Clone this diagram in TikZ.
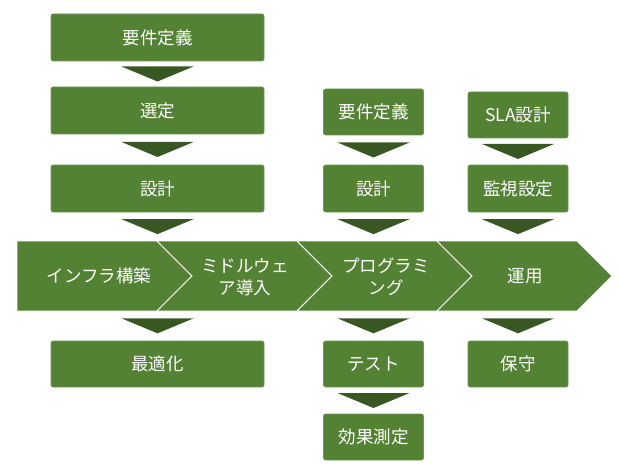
\documentclass[tikz,border=0pt]{standalone}
\usepackage{fontspec}
\newfontfamily\jp{Noto Sans CJK JP}
\definecolor{boxg}{HTML}{548235}
\definecolor{trig}{HTML}{385723}
\newcommand\flowtri[2]{%
  \path (#1) -- (#2) coordinate[midway] (tmid);
  \fill[trig] ([xshift=-36pt,yshift=7.5pt]tmid) -- ([xshift=36pt,yshift=7.5pt]tmid) -- ([yshift=-7.5pt]tmid) -- cycle;}
\begin{document}
\begin{tikzpicture}[x=1pt,y=-1pt,
  jpfont/.style={font=\jp\fontsize{17.5}{22.5}\selectfont},
  box/.style={fill=boxg, draw=boxg!85!white, line width=0.6pt, rounded corners=2pt,
    text=white, jpfont, inner sep=0pt, align=center},
  lbox/.style={box, minimum width=213pt},
  sbox/.style={box, minimum width=100pt},
  seg/.style={fill=boxg, draw=white, line width=0.8pt, line join=miter},
  segtext/.style={text=white, jpfont, align=center, inner sep=0pt}]
\useasboundingbox (0,0) rectangle (620,465);

% left column
\node[lbox, minimum height=47pt] (L1) at (157.5,37.5) {要件定義};
\node[lbox, minimum height=47pt] (L2) at (157.5,110.5) {選定};
\node[lbox, minimum height=47pt] (L3) at (157.5,188.5) {設計};
\node[lbox, minimum height=46pt] (L4) at (157.5,364) {最適化};
% middle column
\node[sbox, minimum height=46pt] (M1) at (373.5,112) {要件定義};
\node[sbox, minimum height=47pt] (M2) at (373.5,188.5) {設計};
\node[sbox, minimum height=46pt] (M3) at (373.5,364) {テスト};
\node[sbox, minimum height=46pt] (M4) at (373.5,437) {効果測定};
% right column
\node[sbox, minimum height=46pt] (R1) at (518,115) {SLA設計};
\node[sbox, minimum height=47pt] (R2) at (518,188.5) {監視設定};
\node[sbox, minimum height=46pt] (R3) at (518,364) {保守};

% chevron band
\draw[seg] (17,241) -- (157,241) -- (192,276) -- (157,311) -- (17,311) -- cycle;
\draw[seg] (157,241) -- (297,241) -- (332,276) -- (297,311) -- (157,311) -- (192,276) -- cycle;
\draw[seg] (297,241) -- (437,241) -- (472,276) -- (437,311) -- (297,311) -- (332,276) -- cycle;
\draw[seg] (437,241) -- (577,241) -- (612,276) -- (577,311) -- (437,311) -- (472,276) -- cycle;
\node[segtext] (C1) at (99,276) {インフラ構築};
\node[segtext] (C2) at (245,277) {ミドルウェ\\ア導入};
\node[segtext] (C3) at (386,277) {プログラミ\\ング};
\node[segtext] (C4) at (525,276) {運用};

\coordinate (LT) at (157.5,241); \coordinate (LB) at (157.5,311);
\coordinate (MT) at (373.5,241); \coordinate (MB) at (373.5,311);
\coordinate (RT) at (518,241);   \coordinate (RB) at (518,311);

% triangle connectors
\flowtri{L1.south}{L2.north}
\flowtri{L2.south}{L3.north}
\flowtri{L3.south}{LT}
\flowtri{LB}{L4.north}
\flowtri{M1.south}{M2.north}
\flowtri{M2.south}{MT}
\flowtri{MB}{M3.north}
\flowtri{M3.south}{M4.north}
\flowtri{R1.south}{R2.north}
\flowtri{R2.south}{RT}
\flowtri{RB}{R3.north}
\end{tikzpicture}
\end{document}
